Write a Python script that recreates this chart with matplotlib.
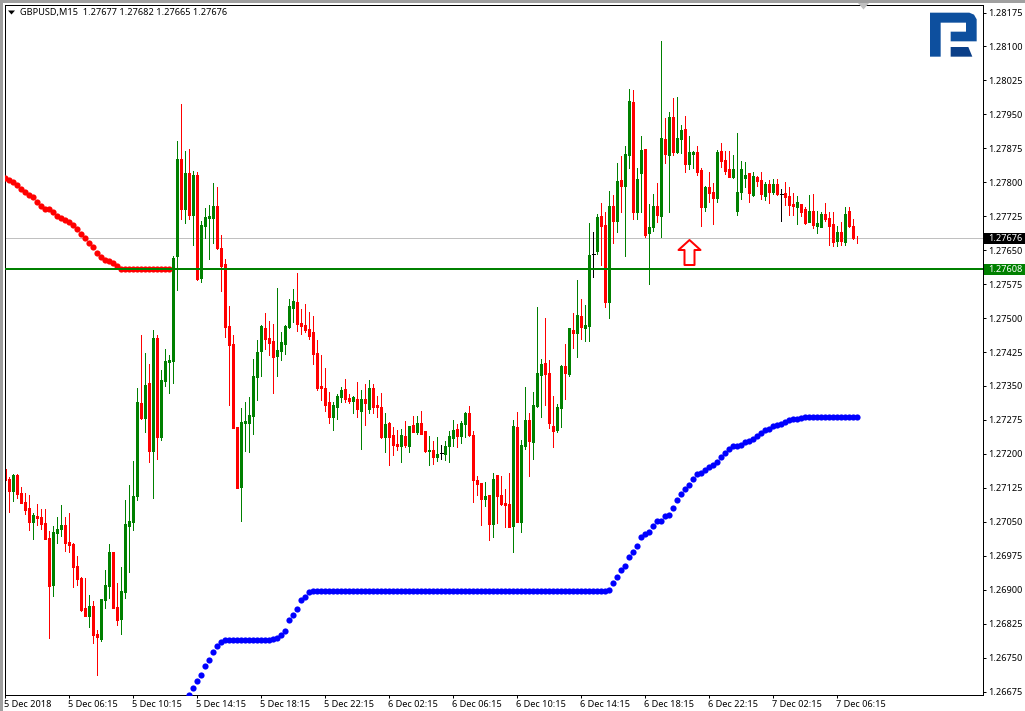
import matplotlib
matplotlib.use('Agg')
import matplotlib.pyplot as plt
from matplotlib.path import Path
from matplotlib.patches import Polygon, Rectangle
from matplotlib.transforms import ScaledTranslation, blended_transform_factory

plt.rcParams['font.family'] = ['Noto Sans', 'DejaVu Sans']

# Prices, in points (1 point = 0.00001)
opens = [
    127167, 127145, 127117, 127153, 127114, 127094, 127081, 127050, 127063, 127061,
    127047, 127014, 126911, 127025, 127034, 127043, 127005, 127001, 126952, 126926,
    126860, 126843, 126864, 126802, 126791, 126878, 126909, 126983, 126862, 126836,
    126896, 127041, 127050, 127106, 127312, 127279, 127357, 127207, 127456, 127238,
    127360, 127403, 127406, 127638, 127852, 127741, 127821, 127728, 127816, 127589,
    127704, 127721, 127721, 127748, 127655, 127620, 127483, 127443, 127260, 127127,
    127268, 127268, 127284, 127370, 127427, 127478, 127456, 127450, 127416, 127427,
    127443, 127480, 127522, 127536, 127489, 127485, 127476, 127469, 127423, 127350,
    127346, 127315, 127282, 127304, 127326, 127343, 127323, 127317, 127321, 127295,
    127321, 127299, 127346, 127308, 127304, 127237, 127268, 127242, 127222, 127217,
    127240, 127217, 127264, 127248, 127268, 127251, 127206, 127209, 127193, 127201,
    127200, 127217, 127235, 127255, 127240, 127266, 127290, 127242, 127142, 127136,
    127100, 127109, 127045, 127153, 127109, 127091, 127089, 127041, 127259, 127049,
    127217, 127275, 127226, 127306, 127374, 127401, 127379, 127262, 127253, 127301,
    127394, 127376, 127474, 127467, 127504, 127478, 127482, 127641, 127648, 127725,
    127705, 127535, 127747, 127714, 127805, 127791, 127860, 127977, 127734, 127820,
    127873, 127688, 127701, 127747, 127725, 127895, 127860, 127944, 127866, 127895,
    127917, 127840, 127862, 127866, 127827, 127745, 127789, 127778, 127765, 127869,
    127849, 127829, 127811, 127736, 127778, 127809, 127820, 127772, 127811, 127805,
    127769, 127796, 127778, 127796, 127775, 127776, 127769, 127752, 127745, 127752,
    127741, 127712, 127736, 127703, 127701, 127730, 127721, 127708, 127670, 127690,
    127668, 127736, 127703, 127677,
]
highs = [
    127168, 127150, 127156, 127155, 127127, 127114, 127109, 127069, 127089, 127078,
    127078, 127030, 127041, 127061, 127087, 127061, 127069, 127003, 126974, 126927,
    126926, 126888, 126875, 126811, 126880, 126944, 127001, 126983, 126915, 126950,
    127098, 127131, 127184, 127346, 127463, 127423, 127399, 127474, 127463, 127385,
    127432, 127418, 127637, 127891, 127973, 127869, 127874, 127825, 127823, 127715,
    127743, 127750, 127799, 127790, 127684, 127631, 127527, 127463, 127260, 127302,
    127315, 127326, 127410, 127452, 127485, 127511, 127494, 127487, 127567, 127469,
    127485, 127542, 127564, 127600, 127520, 127531, 127514, 127505, 127452, 127419,
    127390, 127337, 127315, 127333, 127348, 127365, 127332, 127328, 127359, 127341,
    127354, 127363, 127354, 127328, 127334, 127290, 127270, 127259, 127253, 127255,
    127273, 127262, 127284, 127284, 127295, 127251, 127240, 127228, 127237, 127220,
    127228, 127251, 127275, 127266, 127273, 127292, 127306, 127251, 127151, 127136,
    127138, 127109, 127158, 127153, 127151, 127122, 127158, 127275, 127292, 127231,
    127348, 127290, 127337, 127524, 127410, 127500, 127407, 127328, 127310, 127396,
    127443, 127478, 127511, 127584, 127542, 127529, 127710, 127690, 127730, 127754,
    127734, 127780, 127772, 127842, 127858, 127880, 128006, 128004, 127831, 127902,
    127873, 127752, 127774, 127798, 128112, 127942, 127955, 127986, 127988, 127926,
    127946, 127902, 127869, 127880, 127831, 127791, 127822, 127798, 127871, 127886,
    127869, 127869, 127860, 127909, 127847, 127844, 127820, 127822, 127813, 127822,
    127800, 127805, 127807, 127807, 127785, 127800, 127789, 127776, 127769, 127752,
    127745, 127772, 127774, 127736, 127734, 127754, 127734, 127734, 127703, 127712,
    127745, 127745, 127719, 127682,
]
lows = [
    127131, 127072, 127097, 127103, 127092, 127068, 127031, 127011, 127043, 127033,
    127011, 126794, 126887, 127004, 127019, 126986, 126984, 126905, 126911, 126852,
    126843, 126818, 126783, 126712, 126787, 126860, 126882, 126860, 126821, 126803,
    126882, 126940, 127031, 127098, 127276, 127249, 127181, 127103, 127189, 127231,
    127349, 127335, 127357, 127562, 127719, 127710, 127719, 127662, 127584, 127580,
    127677, 127631, 127666, 127653, 127560, 127458, 127308, 127257, 127125, 127051,
    127207, 127204, 127244, 127319, 127372, 127432, 127419, 127335, 127372, 127408,
    127421, 127478, 127492, 127472, 127465, 127469, 127454, 127399, 127341, 127319,
    127295, 127268, 127253, 127277, 127315, 127315, 127312, 127290, 127281, 127211,
    127264, 127290, 127290, 127281, 127235, 127204, 127175, 127197, 127209, 127182,
    127215, 127204, 127248, 127244, 127244, 127204, 127175, 127178, 127184, 127189,
    127186, 127182, 127217, 127215, 127224, 127237, 127240, 127094, 127109, 127043,
    127085, 127010, 127016, 127047, 127087, 127038, 127038, 126983, 127049, 127027,
    127211, 127151, 127189, 127304, 127281, 127308, 127257, 127215, 127248, 127259,
    127321, 127372, 127434, 127414, 127454, 127449, 127449, 127590, 127641, 127617,
    127524, 127500, 127666, 127690, 127734, 127637, 127831, 127719, 127719, 127734,
    127679, 127575, 127692, 127712, 127679, 127842, 127734, 127860, 127864, 127864,
    127822, 127829, 127831, 127816, 127703, 127736, 127756, 127708, 127756, 127833,
    127818, 127811, 127809, 127727, 127763, 127789, 127756, 127769, 127791, 127763,
    127760, 127754, 127774, 127772, 127714, 127749, 127727, 127727, 127708, 127725,
    127708, 127712, 127699, 127688, 127701, 127714, 127661, 127659, 127659, 127661,
    127661, 127701, 127674, 127665,
]
closes = [
    127142, 127117, 127153, 127112, 127092, 127077, 127050, 127065, 127058, 127046,
    127012, 126909, 127027, 127034, 127043, 127004, 126999, 126951, 126924, 126855,
    126843, 126864, 126801, 126796, 126880, 126910, 126983, 126860, 126834, 126897,
    127045, 127052, 127107, 127315, 127279, 127352, 127207, 127456, 127238, 127363,
    127405, 127407, 127633, 127852, 127741, 127821, 127728, 127816, 127586, 127706,
    127723, 127726, 127748, 127655, 127615, 127480, 127441, 127257, 127125, 127271,
    127273, 127286, 127372, 127425, 127483, 127454, 127445, 127414, 127430, 127447,
    127483, 127527, 127538, 127487, 127483, 127474, 127461, 127421, 127346, 127346,
    127308, 127282, 127308, 127328, 127341, 127321, 127317, 127326, 127299, 127321,
    127312, 127346, 127304, 127304, 127237, 127266, 127237, 127220, 127217, 127242,
    127220, 127262, 127248, 127268, 127244, 127206, 127209, 127193, 127200, 127201,
    127217, 127240, 127253, 127240, 127268, 127290, 127242, 127142, 127133, 127100,
    127107, 127045, 127144, 127107, 127089, 127087, 127038, 127262, 127049, 127220,
    127275, 127228, 127308, 127379, 127398, 127376, 127268, 127251, 127304, 127394,
    127379, 127478, 127467, 127507, 127480, 127484, 127639, 127641, 127723, 127703,
    127535, 127747, 127714, 127802, 127791, 127862, 127979, 127734, 127807, 127871,
    127683, 127701, 127747, 127727, 127897, 127862, 127944, 127866, 127897, 127915,
    127840, 127866, 127866, 127822, 127745, 127789, 127776, 127765, 127866, 127847,
    127825, 127811, 127829, 127778, 127829, 127816, 127776, 127813, 127802, 127774,
    127796, 127778, 127796, 127774, 127775, 127767, 127749, 127747, 127756, 127734,
    127710, 127736, 127705, 127710, 127730, 127719, 127703, 127668, 127690, 127670,
    127730, 127703, 127677, 127676,
]

# Red indicator, bars 0 to 41
red_dots = [
    127810, 127804, 127801, 127794, 127785, 127779, 127772, 127767, 127757, 127747,
    127742, 127740, 127735, 127726, 127722, 127717, 127713, 127706, 127697, 127686,
    127677, 127666, 127658, 127644, 127636, 127629, 127627, 127622, 127615,
] + [127608] * 13

# Blue indicator, bars 46 to 213
blue_start = 46
blue_dots = [
    126667, 126682, 126698, 126711, 126731, 126744, 126762, 126775, 126785,
] + [126788] * 12 + [
    126791, 126793, 126800, 126808, 126833, 126844, 126857, 126877, 126883, 126894,
] + [126897] * 74 + [
    126900, 126915, 126928, 126944, 126952, 126972, 126983, 126997, 127016, 127023,
    127027, 127041, 127052, 127052, 127063, 127065, 127080, 127098, 127111, 127122,
    127131, 127145, 127156, 127158, 127164, 127171, 127175, 127182, 127193, 127202,
    127211, 127217, 127217, 127220, 127227, 127228, 127233, 127240, 127246, 127253,
    127255, 127262, 127264, 127266, 127271, 127274, 127276, 127276, 127279, 127281,
] + [127281] * 13

y_ticks = [1.28175, 1.28100, 1.28025, 1.27950, 1.27875, 1.27800, 1.27725, 1.27650, 1.27575,
           1.27500, 1.27425, 1.27350, 1.27275, 1.27200, 1.27125, 1.27050, 1.26975, 1.26900,
           1.26825, 1.26750, 1.26675]
x_labels = ['5 Dec 2018', '5 Dec 06:15', '5 Dec 10:15', '5 Dec 14:15', '5 Dec 18:15',
            '5 Dec 22:15', '6 Dec 02:15', '6 Dec 06:15', '6 Dec 10:15', '6 Dec 14:15',
            '6 Dec 18:15', '6 Dec 22:15', '7 Dec 02:15', '7 Dec 06:15']
bars_per_label = 16

bid_price = 1.27676
line_price = 1.27608
arrow_bar = 171
arrow_price = 1.27646
header = 'GBPUSD,M15  1.27677 1.27682 1.27665 1.27676'

GREEN = '#008000'
RED = '#ff0000'
BLUE = '#0000ff'
W, H = 1025, 711
PX = 72 / 100  # one pixel in points
FS = 6.6


def fig_x(px):
    return px / W


def fig_y(px):
    return 1 - px / H


fig = plt.figure(figsize=(W / 100, H / 100), dpi=100)
ax = fig.add_axes([fig_x(4.5), fig_y(694.5), (982.5 - 4.5) / W, (694.5 - 4.5) / H])
# a quarter pixel off so snapped bars land on the same pixel columns as the original
ax.set_xlim(-0.19, 244.31)
ax.set_ylim(1.266685, 1.281927)

# lines behind the candles
ax.axhline(bid_price, color='#c0c0c0', lw=PX, zorder=1, antialiased=False)

# candles
for i in range(len(opens)):
    o, h, l, c = opens[i] / 1e5, highs[i] / 1e5, lows[i] / 1e5, closes[i] / 1e5
    if c > o:
        col = GREEN
    elif c < o:
        col = RED
    else:
        col = 'black'
    ax.vlines(i, l, h, color=col, lw=PX, zorder=2, antialiased=False)
    if c == o:
        ax.hlines(c, i - 0.375, i + 0.375, color=col, lw=PX, zorder=2, antialiased=False)
    else:
        ax.vlines(i, min(o, c), max(o, c), color=col, lw=3 * PX, zorder=2, antialiased=False,
                  capstyle='butt')

# indicator dots
ax.plot(range(len(red_dots)), [v / 1e5 for v in red_dots], 'o', color=RED, ms=6.2 * PX, mew=0, zorder=3)
ax.plot(range(blue_start, blue_start + len(blue_dots)), [v / 1e5 for v in blue_dots], 'o', color=BLUE,
        ms=6.2 * PX, mew=0, zorder=3)

ax.axhline(line_price, color=GREEN, lw=2 * PX, zorder=4, antialiased=False)

# up arrow
arrow = Path([(0, 1), (0.88, 0.2), (0.4, 0.2), (0.4, -1), (-0.4, -1), (-0.4, 0.2), (-0.88, 0.2), (0, 1)],
             closed=True)
ax.plot([arrow_bar], [arrow_price], marker=arrow, ms=25 * PX, mfc='white', mec=RED, mew=2 * PX, zorder=5)

# axes
ax.yaxis.tick_right()
ax.set_yticks(y_ticks)
ax.set_yticklabels([f'{t:.5f}' for t in y_ticks], fontsize=FS, color='black', ha='left')
ax.set_xticks([bars_per_label * k for k in range(len(x_labels))])
ax.set_xticklabels(x_labels, fontsize=FS, color='black', ha='left')
ax.tick_params(axis='y', length=3 * PX, width=PX, pad=2.2 * PX)
ax.tick_params(axis='x', length=3 * PX, width=PX, pad=2.5 * PX)
nudge = ScaledTranslation(-1.5 * PX / 72, 0, fig.dpi_scale_trans)
for lab in ax.get_xticklabels():
    lab.set_transform(lab.get_transform() + nudge)
for spine in ax.spines.values():
    spine.set_linewidth(PX)
    spine.set_color('black')

# price tags on the right
trans = blended_transform_factory(ax.transAxes, ax.transData)
for price, col in [(bid_price, 'black'), (line_price, GREEN)]:
    ax.add_patch(Rectangle((1.0016, price - 0.00012), 0.0425, 0.00024, transform=trans, color=col, lw=0,
                           clip_on=False, zorder=6))
    ax.text(1.0056, price, f'{price:.5f}', transform=trans, color='white', fontsize=FS, va='center', ha='left',
            clip_on=False, zorder=7)

# header
fig.text(fig_x(20), fig_y(12.5), header, fontsize=FS, color='black', va='center', ha='left')
fig.add_artist(Polygon([(fig_x(8), fig_y(10.5)), (fig_x(15), fig_y(10.5)), (fig_x(11.5), fig_y(14.5))],
                       closed=True, color='black', lw=0, transform=fig.transFigure))

# window edge
fig.add_artist(Rectangle((0, fig_y(2.5)), 1, 2.5 / H, color='#a0a0a0', lw=0, transform=fig.transFigure))
fig.add_artist(Rectangle((0, 0), 2.5 / W, 1, color='#a0a0a0', lw=0, transform=fig.transFigure))

# chart shift marker
fig.add_artist(Polygon([(fig_x(858), fig_y(3)), (fig_x(869), fig_y(3)), (fig_x(863.5), fig_y(9.5))],
                       closed=True, color='#c0c0c0', lw=0, transform=fig.transFigure))


# logo, in pixels of the picture
def logo_shape(points, col):
    verts = [(fig_x(900 + x / 3), fig_y(y / 3)) for x, y in points]
    fig.add_artist(Polygon(verts, closed=True, color=col, lw=0, transform=fig.transFigure))


logo_shape([(90, 38), (208, 38), (222, 44), (230, 58), (230, 124), (152, 124), (152, 95), (198, 95),
            (198, 68), (122, 68), (122, 170), (90, 170)], '#0d4f9e')
logo_shape([(152, 141), (205, 141), (217, 170), (152, 170)], '#0b3f88')

fig.savefig('out.png', dpi=100)
